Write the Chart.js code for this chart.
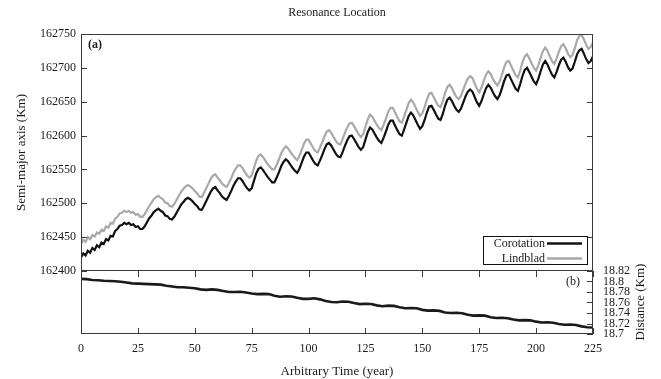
<!DOCTYPE html>
<html>
<head>
<meta charset="utf-8">
<script src="https://cdn.jsdelivr.net/npm/chart.js@4/dist/chart.umd.min.js"></script>
<style>
  html, body { margin: 0; padding: 0; background: #fff; }
  #wrap { position: relative; width: 661px; height: 379px; overflow: hidden; }
  canvas { position: absolute; left: 0; }
</style>
</head>
<body>
<div id="wrap">
  <canvas id="top" width="661" height="286" style="top:0"></canvas>
  <canvas id="bottom" width="661" height="128" style="top:251px"></canvas>
</div>
<script>
// semi-major axis (Km), one sample per year, t = 0..225
const corotation = [
  162420, 162426, 162423, 162430, 162427, 162434, 162431, 162438, 162435, 162442,
  162440, 162447, 162445, 162452, 162451, 162459, 162462, 162467, 162468, 162471,
  162469, 162471, 162468, 162469, 162465, 162466, 162462, 162462, 162466, 162472,
  162478, 162482, 162487, 162490, 162492, 162489, 162487, 162482, 162481, 162477,
  162476, 162480, 162486, 162492, 162498, 162502, 162506, 162508, 162506, 162503,
  162499, 162496, 162491, 162490, 162496, 162503, 162510, 162517, 162522, 162524,
  162519, 162515, 162510, 162507, 162505, 162511, 162518, 162526, 162532, 162537,
  162537, 162533, 162527, 162522, 162519, 162522, 162533, 162544, 162551, 162553,
  162549, 162544, 162539, 162535, 162531, 162531, 162538, 162546, 162555, 162561,
  162565, 162562, 162557, 162552, 162548, 162545, 162551, 162560, 162569, 162575,
  162575, 162569, 162563, 162558, 162556, 162563, 162571, 162580, 162587, 162589,
  162585, 162579, 162573, 162569, 162568, 162576, 162585, 162593, 162599, 162600,
  162595, 162589, 162583, 162579, 162583, 162594, 162605, 162612, 162609, 162603,
  162597, 162592, 162589, 162597, 162606, 162616, 162622, 162622, 162615, 162608,
  162602, 162600, 162609, 162619, 162629, 162634, 162630, 162623, 162616, 162610,
  162614, 162623, 162634, 162643, 162644, 162638, 162631, 162625, 162623, 162632,
  162644, 162653, 162656, 162651, 162644, 162638, 162635, 162640, 162649, 162658,
  162665, 162668, 162665, 162657, 162649, 162644, 162651, 162661, 162670, 162675,
  162671, 162664, 162658, 162654, 162660, 162670, 162681, 162689, 162690, 162683,
  162676, 162669, 162666, 162676, 162688, 162697, 162700, 162694, 162687, 162680,
  162676, 162684, 162695, 162705, 162710, 162705, 162697, 162690, 162686, 162694,
  162704, 162712, 162715, 162709, 162701, 162696, 162699, 162709, 162720, 162726,
  162728, 162721, 162713, 162707, 162710, 162717
];
const lindblad = [
  162440, 162446, 162443, 162450, 162447, 162453, 162451, 162457, 162455, 162461,
  162459, 162466, 162464, 162471, 162470, 162477, 162480, 162485, 162486, 162489,
  162487, 162489, 162486, 162487, 162483, 162484, 162480, 162480, 162484, 162490,
  162496, 162501, 162506, 162509, 162511, 162508, 162506, 162501, 162500, 162496,
  162495, 162499, 162505, 162511, 162517, 162521, 162525, 162527, 162525, 162522,
  162518, 162515, 162510, 162509, 162515, 162522, 162529, 162536, 162541, 162543,
  162538, 162534, 162529, 162526, 162524, 162530, 162537, 162545, 162551, 162556,
  162556, 162552, 162546, 162541, 162538, 162541, 162552, 162563, 162570, 162572,
  162568, 162563, 162558, 162554, 162550, 162550, 162557, 162565, 162574, 162580,
  162584, 162581, 162576, 162571, 162567, 162564, 162570, 162579, 162588, 162594,
  162594, 162588, 162582, 162577, 162575, 162582, 162590, 162599, 162606, 162608,
  162604, 162598, 162592, 162588, 162587, 162595, 162604, 162612, 162618, 162619,
  162614, 162608, 162602, 162598, 162602, 162613, 162624, 162631, 162628, 162622,
  162616, 162611, 162608, 162616, 162625, 162635, 162641, 162641, 162634, 162627,
  162621, 162619, 162628, 162638, 162648, 162653, 162649, 162642, 162635, 162629,
  162633, 162642, 162653, 162662, 162663, 162657, 162650, 162644, 162642, 162651,
  162663, 162672, 162675, 162670, 162663, 162657, 162654, 162659, 162668, 162677,
  162684, 162688, 162685, 162677, 162669, 162664, 162671, 162681, 162690, 162695,
  162691, 162684, 162678, 162674, 162680, 162690, 162701, 162709, 162710, 162703,
  162696, 162689, 162686, 162696, 162708, 162717, 162720, 162714, 162707, 162700,
  162696, 162704, 162715, 162725, 162730, 162725, 162717, 162710, 162706, 162714,
  162724, 162732, 162735, 162729, 162721, 162716, 162719, 162729, 162741, 162747,
  162749, 162742, 162734, 162728, 162731, 162738
];
// distance (Km), one sample every 2.5 years
const distance = [
  18.805, 18.8045, 18.803, 18.8025, 18.8015, 18.801, 18.8005, 18.7995, 18.798, 18.7965,
  18.796, 18.7955, 18.795, 18.7945, 18.794, 18.792, 18.7905, 18.789, 18.789, 18.788,
  18.787, 18.785, 18.784, 18.785, 18.784, 18.782, 18.780, 18.780, 18.7805, 18.779,
  18.777, 18.776, 18.7765, 18.776, 18.773, 18.771, 18.772, 18.7715, 18.769, 18.767,
  18.767, 18.768, 18.766, 18.763, 18.761, 18.7605, 18.762, 18.7615, 18.759, 18.757,
  18.7575, 18.757, 18.7545, 18.753, 18.754, 18.7535, 18.751, 18.749, 18.7495, 18.749,
  18.746, 18.7445, 18.745, 18.744, 18.741, 18.740, 18.7405, 18.7395, 18.7365, 18.735,
  18.7355, 18.735, 18.732, 18.7305, 18.731, 18.730, 18.7275, 18.726, 18.7265, 18.726,
  18.7235, 18.722, 18.7225, 18.7215, 18.719, 18.7175, 18.718, 18.717, 18.7145, 18.713,
  18.7125
];
const years = corotation.map((_, i) => i);
const distYears = distance.map((_, i) => i * 2.5);

const timeTicks = [0, 25, 50, 75, 100, 125, 150, 175, 200, 225];
const semiTicks = [162400, 162450, 162500, 162550, 162600, 162650, 162700, 162750];
const distTicks = [18.7, 18.72, 18.74, 18.76, 18.78, 18.8, 18.82];

Chart.defaults.font.family = "'Liberation Serif', 'Times New Roman', serif";
Chart.defaults.font.size = 12;
Chart.defaults.color = '#1a1a1a';

const FRAME = '#3a3a3a';
const TICK = 6;

const toPoints = (xs, ys) => ys.map((v, i) => ({ x: xs[i], y: v }));
const setTicks = (list) => (axis) => { axis.ticks = list.map((v) => ({ value: v })); };

function frame(ctx, a) {
  ctx.strokeStyle = FRAME;
  ctx.lineWidth = 1;
  ctx.strokeRect(a.left + 0.5, a.top + 0.5, a.right - a.left - 1, a.bottom - a.top - 1);
}

const topDecor = {
  id: 'topDecor',
  afterDraw(chart) {
    const { ctx, chartArea: a, scales: { y } } = chart;
    ctx.save();
    frame(ctx, a);
    ctx.beginPath();
    semiTicks.forEach((v) => {
      const py = Math.round(y.getPixelForValue(v)) + 0.5;
      ctx.moveTo(a.left, py); ctx.lineTo(a.left + TICK, py);
      ctx.moveTo(a.right, py); ctx.lineTo(a.right - TICK, py);
    });
    ctx.stroke();

    ctx.fillStyle = '#1a1a1a';
    ctx.font = "12px 'Liberation Serif', serif";
    ctx.textAlign = 'center';
    ctx.textBaseline = 'middle';
    ctx.fillText('Resonance Location', 337, 13);
    ctx.textAlign = 'left';
    ctx.font = "bold 12px 'Liberation Serif', serif";
    ctx.fillText('(a)', 88, 45);

    // legend
    ctx.font = "12px 'Liberation Serif', serif";
    ctx.strokeStyle = '#111';
    ctx.lineWidth = 1;
    ctx.strokeRect(483.5, 236.5, 104, 28);
    ctx.textAlign = 'right';
    chart.data.datasets.forEach((ds, i) => {
      const ly = 243.5 + i * 15;
      ctx.fillStyle = '#1a1a1a';
      ctx.fillText(ds.label, 545, ly);
      ctx.beginPath();
      ctx.strokeStyle = ds.borderColor;
      ctx.lineWidth = 2.5;
      ctx.moveTo(547, ly); ctx.lineTo(582, ly);
      ctx.stroke();
    });
    ctx.restore();
  }
};

const bottomDecor = {
  id: 'bottomDecor',
  afterDraw(chart) {
    const { ctx, chartArea: a, scales: { x, y } } = chart;
    ctx.save();
    frame(ctx, { left: a.left, top: a.top - 1, right: a.right, bottom: a.bottom });
    ctx.beginPath();
    timeTicks.forEach((v) => {
      const px = Math.round(x.getPixelForValue(v)) + 0.5;
      ctx.moveTo(px, a.bottom); ctx.lineTo(px, a.bottom - TICK);
      ctx.moveTo(px, a.top); ctx.lineTo(px, a.top + TICK);
    });
    distTicks.forEach((v) => {
      const py = Math.round(y.getPixelForValue(v)) + 0.5;
      ctx.moveTo(a.right, py); ctx.lineTo(a.right - TICK, py);
    });
    ctx.stroke();

    ctx.fillStyle = '#1a1a1a';
    ctx.font = "12px 'Liberation Serif', serif";
    ctx.textAlign = 'right';
    ctx.textBaseline = 'middle';
    ctx.fillText('(b)', 580, a.top + 11);
    ctx.translate(641, a.top + 31);
    ctx.rotate(-Math.PI / 2);
    ctx.textAlign = 'center';
    ctx.font = "13px 'Liberation Serif', serif";
    ctx.fillText('Distance (Km)', 0, 0);
    ctx.restore();
  }
};

new Chart(document.getElementById('top'), {
  type: 'line',
  data: {
    datasets: [
      { label: 'Corotation', data: toPoints(years, corotation), borderColor: '#111111', borderWidth: 2.2 },
      { label: 'Lindblad', data: toPoints(years, lindblad), borderColor: '#a9a9a9', borderWidth: 2.2 }
    ]
  },
  options: {
    responsive: false,
    animation: false,
    events: [],
    elements: { point: { radius: 0 }, line: { tension: 0 } },
    layout: { padding: { left: 0, right: 68, top: 34, bottom: 15 } },
    plugins: { legend: { display: false }, tooltip: { enabled: false } },
    scales: {
      x: { type: 'linear', min: 0, max: 225, display: false },
      y: {
        position: 'left', min: 162400, max: 162750,
        afterBuildTicks: setTicks(semiTicks),
        afterFit: (axis) => { axis.width = 81; },
        grid: { display: false, drawTicks: false },
        border: { display: false },
        ticks: { padding: 5, autoSkip: false, callback: (v) => String(v) },
        title: { display: true, text: 'Semi-major axis (Km)', font: { size: 13 }, padding: { top: 14, bottom: 0 } }
      }
    }
  },
  plugins: [topDecor]
});

new Chart(document.getElementById('bottom'), {
  type: 'line',
  data: {
    datasets: [
      { label: 'Distance', data: toPoints(distYears, distance), borderColor: '#1a1a1a', borderWidth: 2.6 }
    ]
  },
  options: {
    responsive: false,
    animation: false,
    events: [],
    elements: { point: { radius: 0 }, line: { tension: 0 } },
    layout: { padding: { left: 81, right: 0, top: 20, bottom: 0 } },
    plugins: { legend: { display: false }, tooltip: { enabled: false } },
    scales: {
      x: {
        type: 'linear', position: 'bottom', min: 0, max: 225,
        afterBuildTicks: setTicks(timeTicks),
        afterFit: (axis) => { axis.height = 45; },
        grid: { display: false, drawTicks: false },
        border: { display: false },
        ticks: { padding: 8, autoSkip: false, maxRotation: 0 },
        title: { display: true, text: 'Arbitrary Time (year)', font: { size: 13 }, padding: { top: 0, bottom: 0 } }
      },
      y: {
        position: 'right', min: 18.7, max: 18.82,
        afterBuildTicks: setTicks(distTicks),
        afterFit: (axis) => { axis.width = 68; },
        grid: { display: false, drawTicks: false },
        border: { display: false },
        ticks: { padding: 10, autoSkip: false, callback: (v) => String(+v.toFixed(2)) }
      }
    }
  },
  plugins: [bottomDecor]
});
</script>
</body>
</html>
